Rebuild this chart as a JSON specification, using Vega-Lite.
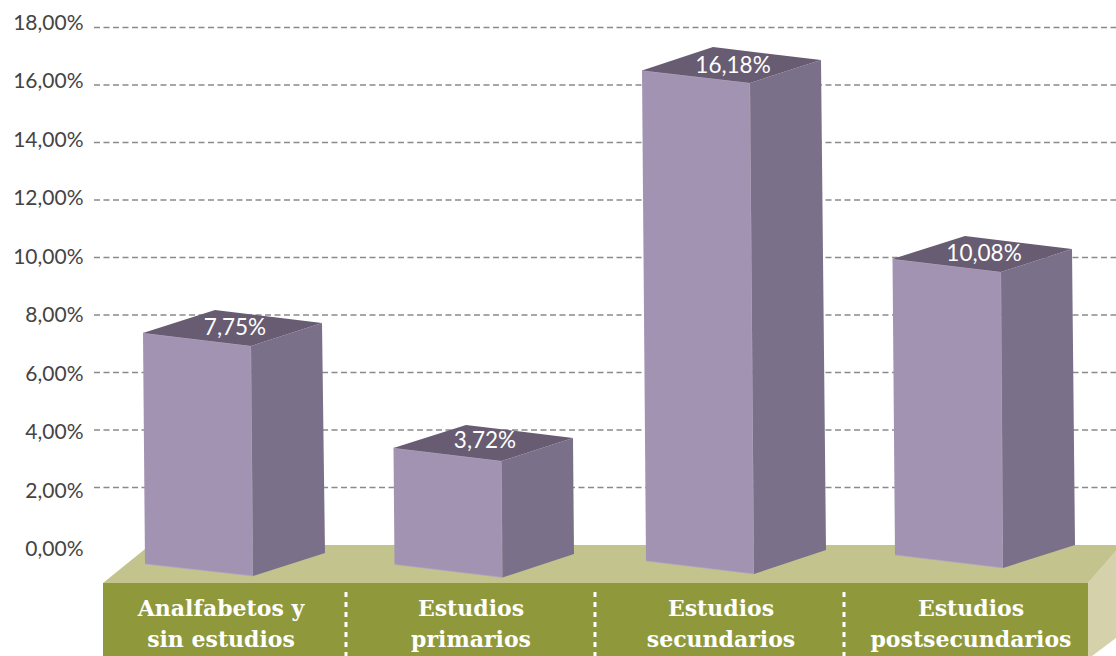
{
"$schema":"https://vega.github.io/schema/vega-lite/v6.json",
"width":1116,"height":656,"padding":0,"autosize":{"type":"none"},"background":"white",
"config":{"view":{"stroke":null}},
"datasets":{
"ticks":[{"v":18,"x1":94,"x2":1116},{"v":16,"x1":94,"x2":1116},{"v":14,"x1":94,"x2":1116},{"v":12,"x1":94,"x2":1116},{"v":10,"x1":94,"x2":1116},{"v":8,"x1":94,"x2":1116},{"v":6,"x1":94,"x2":1116},{"v":4,"x1":94,"x2":1116},{"v":2,"x1":94,"x2":1116}],
"axisT":[{"v":0},{"v":18}],
"base":[
{"cara":"lado","o":1,"x":1088,"y":-1.322},{"cara":"lado","o":2,"x":1116,"y":-0.209},{"cara":"lado","o":3,"x":1116,"y":-3.235},{"cara":"lado","o":4,"x":1092,"y":-3.861},{"cara":"lado","o":5,"x":1088,"y":-3.861},
{"cara":"suelo","o":1,"x":103,"y":-1.322},{"cara":"suelo","o":2,"x":150,"y":0},{"cara":"suelo","o":3,"x":1116,"y":0},{"cara":"suelo","o":4,"x":1116,"y":-0.209},{"cara":"suelo","o":5,"x":1088,"y":-1.322},
{"cara":"frente","o":1,"x":103,"y":-1.322},{"cara":"frente","o":2,"x":1088,"y":-1.322},{"cara":"frente","o":3,"x":1088,"y":-3.861},{"cara":"frente","o":4,"x":103,"y":-3.861}
],
"caras":[
{"cat":"Analfabetos y sin estudios","cara":"frente","o":1,"x":143,"y":7.374},{"cat":"Analfabetos y sin estudios","cara":"frente","o":2,"x":251,"y":6.922},{"cat":"Analfabetos y sin estudios","cara":"frente","o":3,"x":253,"y":-1.078},{"cat":"Analfabetos y sin estudios","cara":"frente","o":4,"x":145,"y":-0.661},
{"cat":"Analfabetos y sin estudios","cara":"lado","o":1,"x":251,"y":6.922},{"cat":"Analfabetos y sin estudios","cara":"lado","o":2,"x":322,"y":7.722},{"cat":"Analfabetos y sin estudios","cara":"lado","o":3,"x":325,"y":-0.278},{"cat":"Analfabetos y sin estudios","cara":"lado","o":4,"x":253,"y":-1.078},
{"cat":"Analfabetos y sin estudios","cara":"techo","o":1,"x":143,"y":7.374},{"cat":"Analfabetos y sin estudios","cara":"techo","o":2,"x":215,"y":8.174},{"cat":"Analfabetos y sin estudios","cara":"techo","o":3,"x":322,"y":7.722},{"cat":"Analfabetos y sin estudios","cara":"techo","o":4,"x":251,"y":6.922},
{"cat":"Estudios primarios","cara":"frente","o":1,"x":393.5,"y":3.374},{"cat":"Estudios primarios","cara":"frente","o":2,"x":501.5,"y":2.922},{"cat":"Estudios primarios","cara":"frente","o":3,"x":502.5,"y":-1.13},{"cat":"Estudios primarios","cara":"frente","o":4,"x":394.5,"y":-0.678},
{"cat":"Estudios primarios","cara":"lado","o":1,"x":501.5,"y":2.922},{"cat":"Estudios primarios","cara":"lado","o":2,"x":573,"y":3.722},{"cat":"Estudios primarios","cara":"lado","o":3,"x":574,"y":-0.313},{"cat":"Estudios primarios","cara":"lado","o":4,"x":502.5,"y":-1.13},
{"cat":"Estudios primarios","cara":"techo","o":1,"x":393.5,"y":3.374},{"cat":"Estudios primarios","cara":"techo","o":2,"x":466,"y":4.174},{"cat":"Estudios primarios","cara":"techo","o":3,"x":573,"y":3.722},{"cat":"Estudios primarios","cara":"techo","o":4,"x":501.5,"y":2.922},
{"cat":"Estudios secundarios","cara":"frente","o":1,"x":642,"y":16.504},{"cat":"Estudios secundarios","cara":"frente","o":2,"x":750,"y":16.07},{"cat":"Estudios secundarios","cara":"frente","o":3,"x":754,"y":-1.009},{"cat":"Estudios secundarios","cara":"frente","o":4,"x":646,"y":-0.557},
{"cat":"Estudios secundarios","cara":"lado","o":1,"x":750,"y":16.07},{"cat":"Estudios secundarios","cara":"lado","o":2,"x":821,"y":16.87},{"cat":"Estudios secundarios","cara":"lado","o":3,"x":826,"y":-0.174},{"cat":"Estudios secundarios","cara":"lado","o":4,"x":754,"y":-1.009},
{"cat":"Estudios secundarios","cara":"techo","o":1,"x":642,"y":16.504},{"cat":"Estudios secundarios","cara":"techo","o":2,"x":713,"y":17.322},{"cat":"Estudios secundarios","cara":"techo","o":3,"x":821,"y":16.87},{"cat":"Estudios secundarios","cara":"techo","o":4,"x":750,"y":16.07},
{"cat":"Estudios postsecundarios","cara":"frente","o":1,"x":892.5,"y":9.948},{"cat":"Estudios postsecundarios","cara":"frente","o":2,"x":1001,"y":9.496},{"cat":"Estudios postsecundarios","cara":"frente","o":3,"x":1003,"y":-0.8},{"cat":"Estudios postsecundarios","cara":"frente","o":4,"x":895,"y":-0.348},
{"cat":"Estudios postsecundarios","cara":"lado","o":1,"x":1001,"y":9.496},{"cat":"Estudios postsecundarios","cara":"lado","o":2,"x":1072,"y":10.296},{"cat":"Estudios postsecundarios","cara":"lado","o":3,"x":1075,"y":0},{"cat":"Estudios postsecundarios","cara":"lado","o":4,"x":1003,"y":-0.8},
{"cat":"Estudios postsecundarios","cara":"techo","o":1,"x":892.5,"y":9.948},{"cat":"Estudios postsecundarios","cara":"techo","o":2,"x":965,"y":10.748},{"cat":"Estudios postsecundarios","cara":"techo","o":3,"x":1072,"y":10.296},{"cat":"Estudios postsecundarios","cara":"techo","o":4,"x":1001,"y":9.496}
],
"valores":[
{"cat":"Analfabetos y sin estudios","valor":"7,75%","x":235,"y":7.548},
{"cat":"Estudios primarios","valor":"3,72%","x":485,"y":3.617},
{"cat":"Estudios secundarios","valor":"16,18%","x":733,"y":16.661},
{"cat":"Estudios postsecundarios","valor":"10,08%","x":984,"y":10.122}
],
"lineas":[
{"t":"Analfabetos y","x":221,"y":-2.215},{"t":"sin estudios","x":221,"y":-3.295},
{"t":"Estudios","x":471,"y":-2.215},{"t":"primarios","x":471,"y":-3.295},
{"t":"Estudios","x":721,"y":-2.215},{"t":"secundarios","x":721,"y":-3.295},
{"t":"Estudios","x":971,"y":-2.215},{"t":"postsecundarios","x":971,"y":-3.295}
],
"seps":[{"x":346,"y1":-1.635,"y2":-3.861},{"x":595,"y1":-1.635,"y2":-3.861},{"x":844,"y1":-1.635,"y2":-3.861}]
},
"encoding":{
"x":{"field":"x","type":"quantitative","scale":{"domain":[0,1116],"nice":false,"zero":false},"axis":null},
"y":{"field":"y","type":"quantitative","scale":{"domain":[18.957,-3.861],"reverse":false,"nice":false,"zero":false,"range":[0,656]},"axis":null}
},
"resolve":{"scale":{"y":"independent"},"axis":{"y":"independent"}},
"layer":[
{"data":{"name":"axisT"},"mark":{"type":"rule","opacity":0},
 "encoding":{"x":{"value":0},"y":{"field":"v","type":"quantitative","scale":{"domain":[18.804,-3.645],"nice":false,"zero":false,"range":[0,656]},
  "axis":{"orient":"left","offset":-83,"values":[0,2,4,6,8,10,12,14,16,18],"labelExpr":"replace(format(datum.value,'.2f'),'.',',')+'%'","domain":false,"ticks":false,"grid":false,"title":null,"labelFont":"Lato","labelFontSize":21,"labelFontWeight":400,"labelColor":"#444444","labelPadding":0,"labelAlign":"right","labelBaseline":"middle"}}}},
{"data":{"name":"ticks"},"mark":{"type":"rule","color":"#8a8a8a","strokeWidth":1.4,"strokeDash":[6,3.5]},
 "encoding":{"x":{"field":"x1","type":"quantitative","scale":{"domain":[0,1116],"nice":false,"zero":false},"axis":null},"x2":{"field":"x2"},"y":{"field":"v","type":"quantitative","scale":{"domain":[18.957,-3.861],"nice":false,"zero":false,"range":[0,656]},"axis":null}}},
{"data":{"name":"base"},"transform":[{"filter":"datum.cara=='lado'"}],"mark":{"type":"line","fill":"#d5d2ab","stroke":null},"encoding":{"order":{"field":"o"}}},
{"data":{"name":"base"},"transform":[{"filter":"datum.cara=='suelo'"}],"mark":{"type":"line","fill":"#c3c38d","stroke":null},"encoding":{"order":{"field":"o"}}},
{"data":{"name":"base"},"transform":[{"filter":"datum.cara=='frente'"}],"mark":{"type":"line","fill":"#8f993c","stroke":null},"encoding":{"order":{"field":"o"}}},
{"data":{"name":"caras"},"transform":[{"filter":"datum.cara=='frente'"}],"mark":{"type":"line","fill":"#a293b3","stroke":"#b3a7c1","strokeWidth":0.7},"encoding":{"order":{"field":"o"},"detail":{"field":"cat"}}},
{"data":{"name":"caras"},"transform":[{"filter":"datum.cara=='lado'"}],"mark":{"type":"line","fill":"#7b7089","stroke":null},"encoding":{"order":{"field":"o"},"detail":{"field":"cat"}}},
{"data":{"name":"caras"},"transform":[{"filter":"datum.cara=='techo'"}],"mark":{"type":"line","fill":"#675c72","stroke":null},"encoding":{"order":{"field":"o"},"detail":{"field":"cat"}}},
{"data":{"name":"seps"},"mark":{"type":"rule","color":"white","strokeWidth":3,"strokeDash":[5,5]},"encoding":{"y":{"field":"y1","type":"quantitative","scale":{"domain":[18.957,-3.861],"nice":false,"zero":false,"range":[0,656]},"axis":null},"y2":{"field":"y2"}}},
{"data":{"name":"valores"},"mark":{"type":"text","font":"Lato","fontSize":22.5,"fontWeight":400,"color":"white","align":"center","baseline":"middle"},"encoding":{"text":{"field":"valor"}}},
{"data":{"name":"lineas"},"mark":{"type":"text","font":"DejaVu Serif","fontWeight":"bold","fontSize":22,"color":"white","align":"center","baseline":"middle"},"encoding":{"text":{"field":"t"}}}
]
}
